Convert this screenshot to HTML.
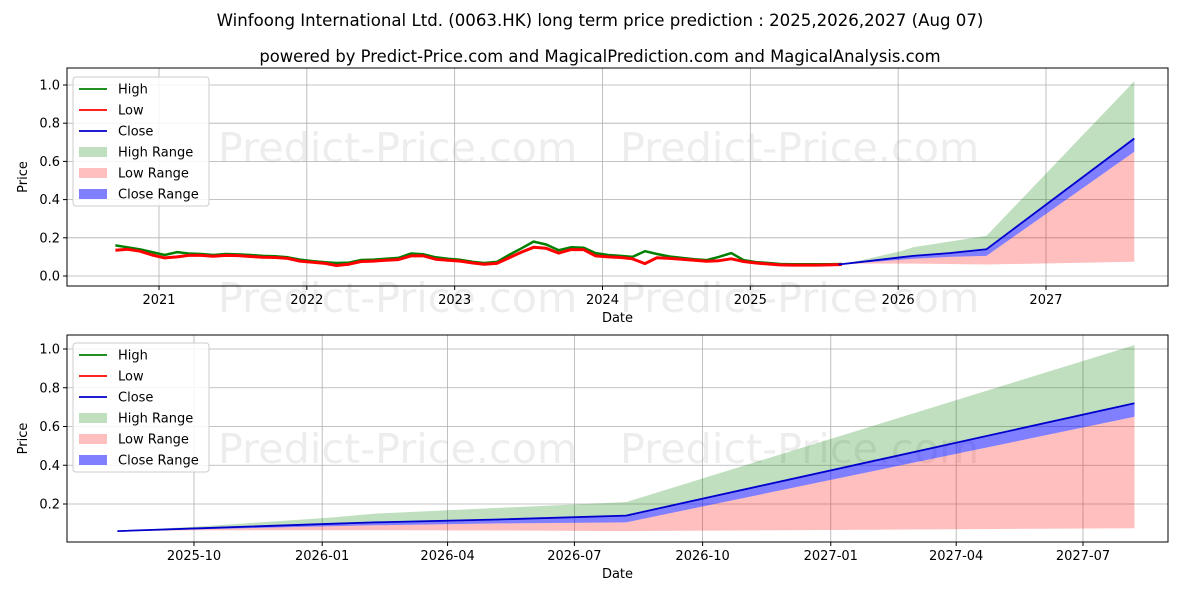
<!DOCTYPE html>
<html><head><meta charset="utf-8"><style>
body{margin:0;background:#fff;}
svg text{font-family:"DejaVu Sans","Liberation Sans",sans-serif;}
</style></head><body>
<svg id="c" width="1200" height="600" xmlns="http://www.w3.org/2000/svg"></svg>
<script>
const histMonths = ["2020-09","2020-10","2020-11","2020-12","2021-01","2021-02","2021-03","2021-04","2021-05","2021-06","2021-07","2021-08","2021-09","2021-10","2021-11","2021-12","2022-01","2022-02","2022-03","2022-04","2022-05","2022-06","2022-07","2022-08","2022-09","2022-10","2022-11","2022-12","2023-01","2023-02","2023-03","2023-04","2023-05","2023-06","2023-07","2023-08","2023-09","2023-10","2023-11","2023-12","2024-01","2024-02","2024-03","2024-04","2024-05","2024-06","2024-07","2024-08","2024-09","2024-10","2024-11","2024-12","2025-01","2025-02","2025-03","2025-04","2025-05","2025-06","2025-07","2025-08"];
const histLow = [0.135,0.14,0.13,0.11,0.095,0.1,0.108,0.108,0.103,0.108,0.107,0.102,0.098,0.097,0.092,0.078,0.072,0.066,0.055,0.062,0.076,0.078,0.082,0.086,0.105,0.106,0.088,0.082,0.078,0.068,0.062,0.066,0.095,0.125,0.15,0.145,0.12,0.138,0.138,0.105,0.1,0.097,0.09,0.065,0.096,0.092,0.088,0.082,0.077,0.08,0.09,0.076,0.068,0.063,0.058,0.057,0.057,0.057,0.058,0.06];
const histHigh = [0.16,0.15,0.14,0.125,0.11,0.125,0.118,0.115,0.11,0.115,0.113,0.11,0.105,0.103,0.098,0.086,0.078,0.072,0.068,0.07,0.084,0.086,0.09,0.095,0.118,0.114,0.098,0.09,0.085,0.074,0.068,0.074,0.11,0.145,0.18,0.165,0.135,0.15,0.148,0.12,0.11,0.105,0.1,0.13,0.115,0.102,0.095,0.088,0.083,0.1,0.12,0.083,0.073,0.068,0.063,0.062,0.062,0.061,0.062,0.063];
const predDates = ["2025-08-07","2025-10-07","2026-01-07","2026-02-07","2026-05-07","2026-08-07","2027-08-07"];
const predClose = [0.06,0.075,0.098,0.105,0.12,0.14,0.72];
const predHigh = [0.06,0.085,0.13,0.15,0.18,0.21,1.02];
const predLow = [0.06,0.065,0.065,0.065,0.063,0.06,0.075];
const predCloseHi = [0.06,0.078,0.1,0.108,0.123,0.142,0.72];
const predCloseLo = [0.06,0.07,0.085,0.09,0.1,0.105,0.65];
const topYTicks = [0.0,0.2,0.4,0.6,0.8,1.0];
const topXTicks = ["2021","2022","2023","2024","2025","2026","2027"];
const botYTicks = [0.2,0.4,0.6,0.8,1.0];
const botXTicks = ["2025-10","2026-01","2026-04","2026-07","2026-10","2027-01","2027-04","2027-07"];

const NS="http://www.w3.org/2000/svg";
const svg=document.getElementById('c');
function mk(tag,attrs,parent,name,inter){const e=document.createElementNS(NS,tag);for(const k in attrs)e.setAttribute(k,attrs[k]);


(parent||svg).appendChild(e);return e;}
function txt(s,x,y,size,anchor,name,extra){const t=mk('text',Object.assign({x:x,y:y,'font-size':size,'text-anchor':anchor||'middle',fill:'#000'},extra||{}),null,name);t.textContent=s;return t;}
function dms(s){return Date.parse(s.length==7?s+"-01":s);}
function dec(s){const d=new Date(dms(s));const y=d.getUTCFullYear();const a=Date.UTC(y,0,1),b=Date.UTC(y+1,0,1);return y+(d-a)/(b-a);}

txt("Winfoong International Ltd. (0063.HK) long term price prediction : 2025,2026,2027 (Aug 07)",600,26,16.6,'middle','chart-title');
txt("powered by Predict-Price.com and MagicalPrediction.com and MagicalAnalysis.com",600,62,16.4,'middle','chart-subtitle');

function panel(o){
  const {L,R,T,B,x,y,xt,xtPos,yt,name,hist}=o;
  mk('rect',{x:L,y:T,width:R-L,height:B-T,fill:'#fff'},null,name+'-plot-area');
  o.wm.forEach(p=>{const t=mk('text',{x:p[0],y:p[1],'font-size':41.3,fill:'#000','fill-opacity':0.07,'text-anchor':'start'},null,name+'-watermark');t.textContent="Predict-Price.com";});
  xtPos.forEach((px,i)=>{mk('line',{x1:px,x2:px,y1:T,y2:B,stroke:'#b0b0b0','stroke-width':0.8},null,name+'-x-grid');
    mk('line',{x1:px,x2:px,y1:B,y2:B+4,stroke:'#000'},null,name+'-x-tick');
    txt(xt[i],px,B+18,13,'middle',name+'-x-tick-label');});
  yt.forEach(v=>{const py=y(v);mk('line',{x1:L,x2:R,y1:py,y2:py,stroke:'#b0b0b0','stroke-width':0.8},null,name+'-y-grid');
    mk('line',{x1:L-4,x2:L,y1:py,y2:py,stroke:'#000'},null,name+'-y-tick');
    txt(v.toFixed(1),L-7,py+4.5,13,'end',name+'-y-tick-label');});
  const P=(xs,ys)=>xs.map((d,i)=>x(d).toFixed(1)+','+y(ys[i]).toFixed(1));
  const band=(lo,hi,fill,op,nm)=>{const pts=P(predDates,hi).concat(P(predDates,lo).reverse());mk('polygon',{points:pts.join(' '),fill:fill,'fill-opacity':op},null,nm);};
  band(predCloseHi,predHigh,'#008000',0.25,name+'-high-range');
  band(predLow,predCloseLo,'#ff0000',0.25,name+'-low-range');
  band(predCloseLo,predCloseHi,'#0000ff',0.5,name+'-close-range');
  if(hist){
    mk('polyline',{points:P(histMonths.map(m=>m+"-15"),histHigh).join(' '),fill:'none',stroke:'#008000','stroke-width':2.5,'stroke-linejoin':'round'},null,name+'-high-line');
    mk('polyline',{points:P(histMonths.map(m=>m+"-15"),histLow).join(' '),fill:'none',stroke:'#ff0000','stroke-width':3,'stroke-linejoin':'round'},null,name+'-low-line');
  }
  mk('polyline',{points:P(predDates,predClose).join(' '),fill:'none',stroke:'#0000cc','stroke-width':1.8},null,name+'-close-line');
  mk('rect',{x:L,y:T,width:R-L,height:B-T,fill:'none',stroke:'#000','stroke-width':1},null,name+'-frame');
  txt("Date",(L+R)/2,B+36,13,'middle',name+'-x-axis-title');
  const ty=(T+B)/2;txt("Price",27,ty,13,'middle',name+'-y-axis-title',{transform:`rotate(-90 27 ${ty})`});
  const lx=73,ly=o.legY;
  const g=mk('g',{},null,name+'-legend');
  mk('rect',{x:lx,y:ly,width:136,height:129,fill:'#fff','fill-opacity':0.85,stroke:'#ccc',rx:3},g,name+'-legend-box');
  const items=[["High","line","#008000"],["Low","line","#ff0000"],["Close","line","#0000cc"],["High Range","patch","rgba(0,128,0,0.25)"],["Low Range","patch","rgba(255,0,0,0.25)"],["Close Range","patch","rgba(0,0,255,0.5)"]];
  items.forEach((it,i)=>{const cy=ly+12+i*21;
    if(it[1]=="line")mk('line',{x1:lx+6,x2:lx+34,y1:cy,y2:cy,stroke:it[2],'stroke-width':1.8},g,name+'-legend-swatch');
    else mk('rect',{x:lx+6,y:cy-5,width:28,height:10,fill:it[2]},g,name+'-legend-swatch');
    const t=mk('text',{x:lx+45,y:cy+4.5,'font-size':13,fill:'#000'},g,name+'-legend-entry');t.textContent=it[0];});
}
const tL=67,tR=1168,tT=68,tB=286;
const tx=d=>159+(dec(d)-2021)*147.83;
const ty=v=>276-v*191;
panel({L:tL,R:tR,T:tT,B:tB,x:tx,y:ty,xt:topXTicks,xtPos:topXTicks.map(s=>tx(s+"-01-01")),yt:topYTicks,name:'top',hist:true,legY:77,wm:[[218,162],[620,162],[218,312],[620,312]]});
const bL=67,bR=1168,bT=335,bB=542;
const d0=dms("2025-10-01");
const bx=d=>194+(dms(d)-d0)/86400000*1.3934;
const by=v=>542.75-v*193.75;
panel({L:bL,R:bR,T:bT,B:bB,x:bx,y:by,xt:botXTicks,xtPos:botXTicks.map(s=>bx(s+"-01")),yt:botYTicks,name:'bottom',hist:false,legY:343,wm:[[218,463],[620,463]]});
</script>
</body></html>
